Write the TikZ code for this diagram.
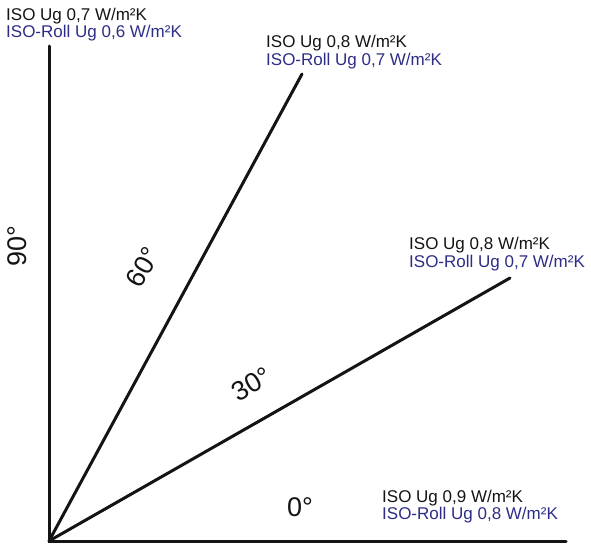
\documentclass[tikz,border=0pt]{standalone}
\usepackage{fontspec}
\setmainfont{Liberation Sans}
\definecolor{navy}{RGB}{45,45,135}
\definecolor{ink}{RGB}{20,20,20}
\begin{document}
\begin{tikzpicture}[x=1pt,y=-1pt,
  axis/.style={line width=3pt,draw=ink,line cap=round},
  lbl/.style={anchor=base west,inner sep=0pt,font=\fontsize{17}{17}\selectfont},
  iso/.style={lbl,text=ink},
  roll/.style={lbl,text=navy},
  deg/.style={inner sep=0pt,text=ink,font=\fontsize{27}{27}\selectfont}]
\useasboundingbox (0,0) rectangle (591,546);
\coordinate (O) at (49,541);
\coordinate (E90) at (49,46);
\coordinate (E60) at (302,74);
\coordinate (E30) at (510,278);
\coordinate (E0) at (566,541);
\draw[axis] (E90) -- (O) -- (E0);
\draw[axis] (O) -- (E60);
\draw[axis] (O) -- (E30);
% labels
\node[iso]  (a1) at (6,20)   {ISO Ug 0,7 W/m²K};
\node[roll] (a2) at (6,37.5) {ISO-Roll Ug 0,6 W/m²K};
\node[iso]  (b1) at (266,47.5) {ISO Ug 0,8 W/m²K};
\node[roll] (b2) at (266,65.5) {ISO-Roll Ug 0,7 W/m²K};
\node[iso]  (c1) at (409,249) {ISO Ug 0,8 W/m²K};
\node[roll] (c2) at (409,267) {ISO-Roll Ug 0,7 W/m²K};
\node[iso]  (d1) at (382,502) {ISO Ug 0,9 W/m²K};
\node[roll] (d2) at (382,519.5) {ISO-Roll Ug 0,8 W/m²K};
% angle labels
\node[deg,rotate=90] (g90) at (17,246) {90°};
\node[deg,rotate=60] (g60) at (143,267) {60°};
\node[deg,rotate=30] (g30) at (252,384) {30°};
\node[deg] (g0) at (300,507) {0°};
\end{tikzpicture}
\end{document}
